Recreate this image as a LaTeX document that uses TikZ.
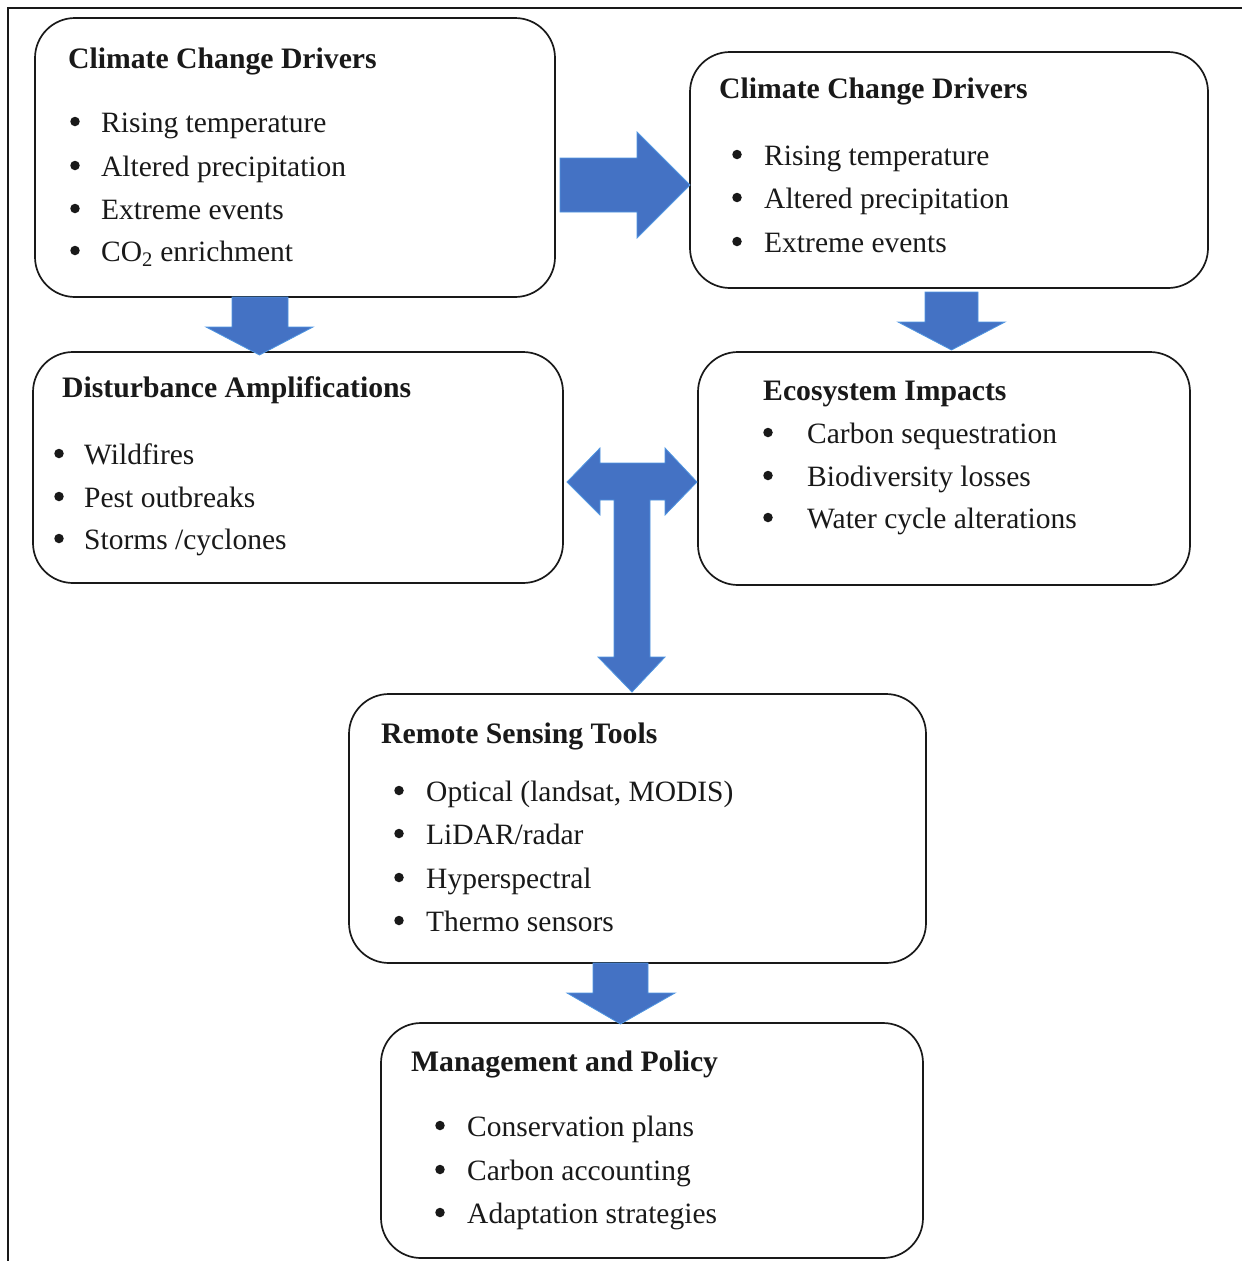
\documentclass[tikz,border=0pt]{standalone}
\usepackage{fontspec}
\setmainfont{Liberation Serif}
\definecolor{arrowblue}{RGB}{68,114,196}
\definecolor{arrowedge}{RGB}{80,150,225}
\definecolor{inkgray}{RGB}{25,25,25}
\begin{document}
\begin{tikzpicture}[x=1pt,y=-1pt,
  box/.style={draw=inkgray, line width=1.7pt, rounded corners=40pt, fill=white, inner sep=0pt},
  ttl/.style={anchor=base west, inner sep=0pt, text=inkgray, font=\fontsize{29.7}{35}\selectfont\bfseries},
  itm/.style={anchor=base west, inner sep=0pt, text=inkgray, font=\fontsize{29.5}{35}\selectfont},
  bul/.style={circle, fill=inkgray, inner sep=0pt, minimum size=9.5pt, yshift=9.5pt},
  blockarrow/.style={fill=arrowblue, draw=arrowedge, line width=0.8pt, line join=miter}
]
\useasboundingbox (0,0) rectangle (1242,1261);
\fill[white] (0,0) rectangle (1242,1261);
% frame (top and left edges)
\coordinate (fTL) at (8,8);
\coordinate (fTR) at (1242,8);
\coordinate (fBL) at (8,1261);
\draw[line width=1.5pt, inkgray] (fBL) -- (fTL) -- (fTR);

% boxes
\node[box, minimum width=520pt, minimum height=279pt] (b1) at (295,157.5) {};
\node[box, minimum width=518pt, minimum height=236pt] (b2) at (949,170) {};
\node[box, minimum width=530pt, minimum height=231pt] (b3) at (298,467.5) {};
\node[box, minimum width=492pt, minimum height=233pt] (b4) at (944,468.5) {};
\node[box, minimum width=577pt, minimum height=269pt] (b5) at (637.5,828.5) {};
\node[box, minimum width=542pt, minimum height=235pt] (b6) at (652,1140.5) {};

% arrows
% b1 -> b2
\draw[blockarrow] (560,158) -- (637,158) -- (637,132) -- (690,185) -- (637,238) -- (637,212) -- (560,212) -- cycle;
% b1 -> b3
\draw[blockarrow] (232,297) -- (288,297) -- (288,327) -- (313,327) -- (259.5,355) -- (206,327) -- (232,327) -- cycle;
% b2 -> b4
\draw[blockarrow] (925,292) -- (978,292) -- (978,322) -- (1005,322) -- (951.5,350) -- (898,322) -- (925,322) -- cycle;
% b5 -> b6
\draw[blockarrow] (593,963) -- (648,963) -- (648,993) -- (675,993) -- (620.5,1024) -- (567,993) -- (593,993) -- cycle;
% T arrow b3 <-> b4, down to b5
\draw[blockarrow] (567,482) -- (600,448) -- (600,463) -- (665,463) -- (665,448) -- (697,482)
  -- (665,515) -- (665,500) -- (650,500) -- (650,657) -- (665,657) -- (632,692)
  -- (598,657) -- (614,657) -- (614,500) -- (600,500) -- (600,515) -- cycle;

% box 1 text
\node[ttl] (t1) at (68,68) {Climate Change Drivers};
\node[bul] (b1u1) at (75,131) {};
\node[bul] (b1u2) at (75,175) {};
\node[bul] (b1u3) at (75,218) {};
\node[bul] (b1u4) at (75,260) {};
\node[itm] (b1i1) at (101,132) {Rising temperature};
\node[itm] (b1i2) at (101,176) {Altered precipitation};
\node[itm] (b1i3) at (101,219) {Extreme events};
\node[itm] (b1i4) at (101,261) {CO\textsubscript{2} enrichment};

% box 2 text
\node[ttl] (t2) at (719,98) {Climate Change Drivers};
\node[bul] (b2u1) at (737,164) {};
\node[bul] (b2u2) at (737,207) {};
\node[bul] (b2u3) at (737,251) {};
\node[itm] (b2i1) at (764,165) {Rising temperature};
\node[itm] (b2i2) at (764,208) {Altered precipitation};
\node[itm] (b2i3) at (764,252) {Extreme events};

% box 3 text
\node[ttl] (t3) at (62,397) {Disturbance Amplifications};
\node[bul] (b3u1) at (59,463) {};
\node[bul] (b3u2) at (59,506) {};
\node[bul] (b3u3) at (59,548) {};
\node[itm] (b3i1) at (84,464) {Wildfires};
\node[itm] (b3i2) at (84,507) {Pest outbreaks};
\node[itm] (b3i3) at (84,549) {Storms /cyclones};

% box 4 text
\node[ttl] (t4) at (763,400) {Ecosystem Impacts};
\node[bul] (b4u1) at (768,442) {};
\node[bul] (b4u2) at (768,485) {};
\node[bul] (b4u3) at (768,527) {};
\node[itm] (b4i1) at (807,443) {Carbon sequestration};
\node[itm] (b4i2) at (807,486) {Biodiversity losses};
\node[itm] (b4i3) at (807,528) {Water cycle alterations};

% box 5 text
\node[ttl] (t5) at (381,743) {Remote Sensing Tools};
\node[bul] (b5u1) at (399,800) {};
\node[bul] (b5u2) at (399,843) {};
\node[bul] (b5u3) at (399,887) {};
\node[bul] (b5u4) at (399,930) {};
\node[itm] (b5i1) at (426,801) {Optical (landsat, MODIS)};
\node[itm] (b5i2) at (426,844) {LiDAR/radar};
\node[itm] (b5i3) at (426,888) {Hyperspectral};
\node[itm] (b5i4) at (426,931) {Thermo sensors};

% box 6 text
\node[ttl] (t6) at (411,1071) {Management and Policy};
\node[bul] (b6u1) at (440,1135) {};
\node[bul] (b6u2) at (440,1179) {};
\node[bul] (b6u3) at (440,1222) {};
\node[itm] (b6i1) at (467,1136) {Conservation plans};
\node[itm] (b6i2) at (467,1180) {Carbon accounting};
\node[itm] (b6i3) at (467,1223) {Adaptation strategies};
\end{tikzpicture}
\end{document}
